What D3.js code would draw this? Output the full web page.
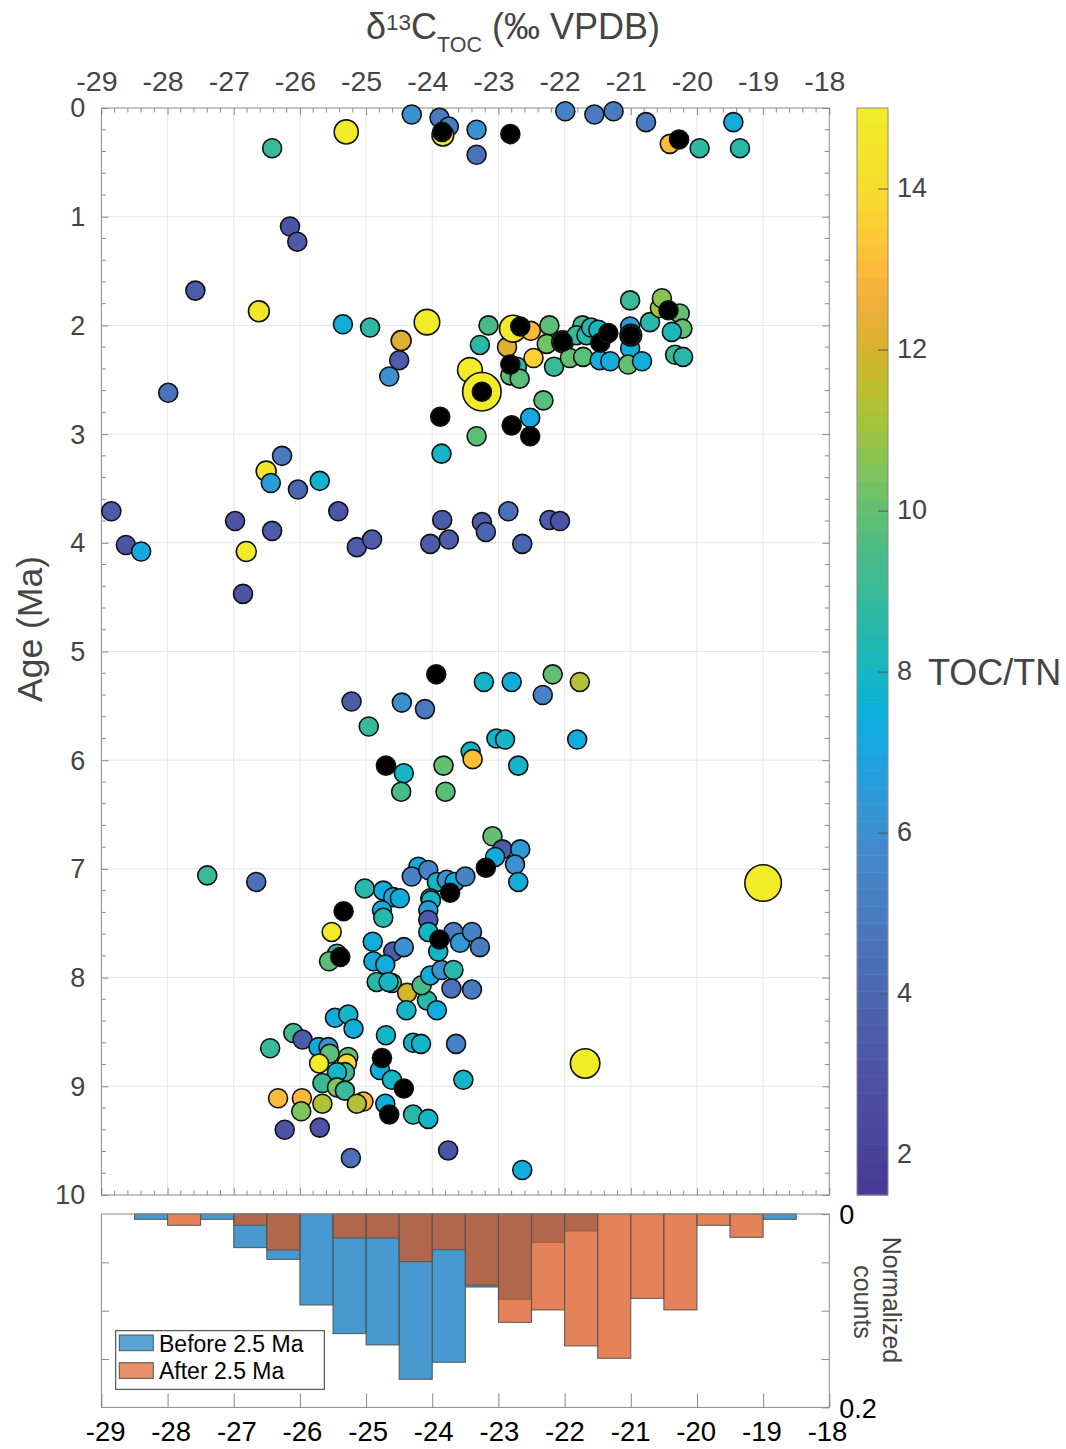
<!DOCTYPE html>
<html>
<head>
<meta charset="utf-8">
<script src="https://cdn.jsdelivr.net/npm/d3@7"></script>
<style>
  body { margin: 0; background: #fff; }
  svg text { font-family: "Liberation Sans", Arial, Helvetica, sans-serif; }
</style>
</head>
<body>
<svg id="fig" width="1066" height="1449"></svg>
<script>
// ---------- scatter samples: δ13C (‰), age (Ma), TOC/TN, relative marker size ----------
const d13c = [
  -24.31,-23.89,-23.75,-23.84,-23.33,-23.33,-21.99,-21.55,-21.26,-20.77,-20.41,-19.96,-19.45,-19.35,-25.30,-26.42,
  -26.15,-26.04,-27.58,-26.62,-27.99,-25.35,-24.94,-24.47,-24.50,-24.65,-24.08,
  -23.15,-23.28,-22.87,-22.72,-22.82,-22.68,-22.78,-22.51,-22.47,-22.23,-22.16,-22.27,-22.03,-21.92,-21.72,-21.73,
  -21.82,-21.67,-21.60,-21.49,-21.47,-21.31,-21.01,-21.01,-21.00,-21.04,-20.83,-21.01,-20.71,-20.56,-20.53,-20.26,
  -20.22,-20.38,-20.33,-20.21,-23.43,-23.25,-22.32,-22.52,-23.33,-23.86,
  -28.85,-28.63,-28.40,-26.98,-26.42,-26.51,-26.44,-26.27,-26.03,-25.70,-25.42,-25.14,-24.91,-26.81,-26.86,-23.85,
  -23.75,-24.03,-23.25,-23.19,-22.85,-22.64,-22.23,-22.07,
  -23.22,-22.80,-22.18,-21.77,-22.33,-25.22,-24.46,-24.11,-24.96,-23.03,-22.90,-21.81,-24.43,-24.47,-23.83,-23.80,
  -23.42,-23.39,-22.70,
  -23.09,-22.94,-22.67,-23.05,-22.75,-22.70,-25.02,-24.74,-24.21,-24.31,-24.06,-23.93,-23.78,-23.66,-23.50,-24.59,
  -24.49,-24.03,-27.40,-26.66,-19.00,
  -24.76,-24.74,-25.52,-25.44,-25.56,-24.90,-24.59,-24.43,-24.89,-24.71,-24.84,-24.61,-24.66,-24.38,-24.08,-24.39,
  -23.93,-24.16,-24.03,-23.86,-23.68,-23.71,-23.40,-24.02,-24.06,-24.06,-24.06,-23.91,-23.68,-23.58,-23.40,-23.28,
  -25.47,-25.27,-25.19,-26.45,-26.10,-25.96,-25.72,-25.57,-25.55,-25.27,-25.29,-25.71,-25.32,-25.44,-25.66,-25.44,
  -25.32,-26.33,-25.97,-25.66,-25.98,-25.04,-25.14,-26.23,-25.70,-25.23,-24.70,-24.29,-24.17,-23.64,-24.79,-24.61,
  -24.71,-24.29,-24.06,-23.53,-23.76,-22.64,-21.69
];
const ageMa = [
  0.06,0.09,0.17,0.25,0.20,0.43,0.03,0.06,0.03,0.13,0.33,0.37,0.13,0.37,0.22,0.37,
  1.09,1.23,1.68,1.87,2.62,1.99,2.02,2.14,2.32,2.47,1.97,
  2.00,2.18,2.20,2.38,2.46,2.49,2.03,2.05,2.30,2.00,2.38,2.17,2.15,2.30,2.29,2.00,
  2.09,2.09,2.02,2.04,2.32,2.33,2.01,2.21,2.09,2.36,2.33,1.77,1.97,1.84,1.75,1.89,
  2.03,2.06,2.27,2.29,2.41,2.61,2.69,2.85,3.02,3.18,
  3.71,4.02,4.08,3.80,3.89,3.34,3.45,3.20,3.51,3.43,3.71,4.04,3.97,4.08,4.47,3.79,
  3.97,4.01,3.81,3.90,3.71,4.01,3.79,3.80,
  5.28,5.28,5.21,5.28,5.40,5.46,5.47,5.53,5.69,5.80,5.81,5.81,6.12,6.29,6.05,6.29,
  5.92,5.99,6.05,
  6.70,6.82,6.82,6.89,6.96,7.12,7.18,7.20,6.98,7.07,7.01,7.12,7.10,7.12,7.07,7.26,
  7.27,7.27,7.06,7.12,7.13,
  7.38,7.45,7.58,7.78,7.85,7.67,7.76,7.72,7.85,7.88,8.04,8.05,8.04,8.14,8.21,8.30,
  8.30,8.07,7.98,7.93,7.93,8.10,8.11,7.29,7.38,7.47,7.58,7.76,7.58,7.68,7.58,7.72,
  8.37,8.34,8.47,8.65,8.51,8.57,8.64,8.64,8.70,8.73,8.79,8.79,8.87,8.87,8.97,9.01,
  9.04,9.11,9.11,9.16,9.23,9.14,9.16,9.40,9.38,9.66,8.53,8.60,8.61,8.61,8.85,8.94,
  9.16,9.26,9.30,8.94,9.59,9.77,8.79
];
const tocTn = [
  6.0,5.0,5.0,15,6.0,4.5,5.3,5.0,5.0,5.0,13,8.7,7.3,8.5,15,9.0,
  3.0,3.5,3.5,14.5,4.5,7.2,8.8,12.2,3.5,6.0,15,
  9.5,8.6,12.2,8.6,9.8,9.8,15,13,13.6,9.8,9.0,10.2,15,10,9.8,9.2,
  8.9,8.5,8.3,8.2,7.3,7.3,6.5,7.3,15,10,7.3,8.9,8.5,11,10.6,10,
  10,8.2,9.0,8.5,15,15,9.8,7.0,9.8,8.0,
  3.5,3.0,7.0,3.0,3.5,14.5,6.5,5.0,4.0,7.8,3.0,3.5,3.5,14.8,3.0,3.5,
  3.5,3.5,3.5,4.0,4.5,4.0,3.5,3.0,
  8.0,7.2,10,11.4,5.3,3.5,6.0,5.0,9.0,8.0,8.0,7.2,8.0,9.5,10,9.8,
  8.0,13.3,8.0,
  10,3.5,6.5,7.2,6.0,7.2,8.6,7.2,7.2,5.5,5.3,8.0,6.0,7.2,5.3,7.2,
  7.2,8.2,9.0,4.5,15,
  7.2,8.6,14.8,8.6,9.8,7.2,3.5,6.0,7.2,7.2,8.6,9.8,8.0,12.0,8.6,8.0,
  7.2,9.5,7.2,6.0,8.6,4.5,5.0,8.0,6.5,3.5,8.0,8.0,5.0,6.5,5.3,5.0,
  7.3,8.0,7.3,9.0,9.2,3.5,7.2,6.0,9.8,10,13.8,14.8,9.0,8.0,9.0,10.5,
  9.0,13,13,11.4,10.5,13,11.4,3.0,3.0,4.5,8.0,8.0,8.0,5.5,7.2,8.0,
  7.2,8.6,8.0,8.0,3.0,7.2,15
];
// relative bubble size (1 = standard marker)
const sizeValue = [
  1,1,1,1.3,1,1,1,1,1,1,1,1,1,1,1.6,1,
  1,1,1,1.2,1,1,1,1.1,1,1,1.8,
  1,1,1,1,1,1,2.0,1,1,1,1,1,1.3,1,1,1,
  1,1,1,1,1,1,1,1,1.3,1,1,1,1,1,1,1,
  1,1,1,1,1.7,4.1,1,1,1,1,
  1,1,1,1,1,1.1,1,1,1,1,1,1,1,1.1,1,1,
  1,1,1,1,1,1,1,1,
  1,1,1,1,1,1,1,1,1,1,1,1,1,1,1,1,
  1,1,1,
  1,1,1,1,1,1,1,1,1,1,1,1,1,1,1,1,
  1,1,1,1,3.7,
  1,1,1,1,1,1,1,1,1,1,1,1,1,1,1,1,
  1,1,1,1,1,1,1,1,1,1,1,1,1,1,1,1,
  1,1,1,1,1,1,1,1,1,1,1,1,1,1,1,1,
  1,1,1,1,1,1,1,1,1,1,1,1,1,1,1,1,
  1,1,1,1,1,1,2.4
];
// samples without a TOC/TN value (drawn black)
const noRatioD13c = [-23.85,-22.82,-20.27,-23.25,-22.67,-22.82,-22.03,-21.46,-21.34,-21.00,-20.43,-22.80,-22.52,-23.88,
  -23.94,-24.70,-23.19,-23.73,-25.34,-25.39,-23.89,-24.76,-24.43,-24.65];
const noRatioAge = [0.22,0.24,0.29,2.61,2.01,2.36,2.15,2.16,2.07,2.09,1.86,2.92,3.02,2.84,
  5.21,6.05,6.99,7.22,7.39,7.81,7.65,8.74,9.02,9.26];

// ---------- histogram of δ13C (normalized counts, 0.5 ‰ bins) ----------
const binEdges = [-28.5,-28,-27.5,-27,-26.5,-26,-25.5,-25,-24.5,-24,-23.5,-23,-22.5,-22,-21.5,-21,-20.5,-20,-19.5,-19,-18.5];
const beforeFrac = [0.0055,0,0.0055,0.0348,0.0469,0.0941,0.1237,0.1354,0.1709,0.1533,0.0755,0.0882,0.0293,0.0176,0,0,0,0,0,0.0055];
const afterFrac  = [0,0.0117,0,0.0117,0.0372,0,0.0248,0.0248,0.0493,0.0369,0.0735,0.112,0.0992,0.1364,0.1492,0.0872,0.0992,0.0117,0.0241,0];
const legendLabels = ["Before 2.5 Ma", "After 2.5 Ma"];

// ---------- tick values ----------
const xTicks = d3.range(-29, -17);
const ageTicks = d3.range(0, 11);
const ratioTicks = [2, 4, 6, 8, 10, 12, 14];
const ratioDomain = [1.5, 15];

// colormap stops (TOC/TN)
const cmapValues = [1.5,2,2.5,3,3.5,4,4.5,5,5.5,6,6.5,7,7.5,8,8.5,9,9.5,10,10.5,11,11.5,12,12.5,13,13.5,14,14.5,15];
const cmapColors = ["#463996","#49419b","#4b4aa1","#4c53a6","#4c5cab","#4b66b2","#4a70b9","#487bc0","#4485c8","#3c8fcf",
  "#2c9bd8","#18a6df","#0db0d8","#14b6c3","#25b8ac","#38b998","#4bbb86","#62bf72","#80c35b","#9fc43e","#bdbf2f",
  "#d6b42b","#eeae3a","#fcb93a","#fdcc33","#f6dc2c","#f2e52a","#f1ec27"];

// ---------- layout ----------
const svg = d3.select("#fig");
const font = '"Liberation Sans", Arial, Helvetica, sans-serif';
const axisGray = "#8a8a8a";
const textGray = "#444";
const plain = d => String(d);   // hyphen-minus tick labels

const x = d3.scaleLinear([-29, -18], [101.4, 829.3]);
const y = d3.scaleLinear([0, 10], [108, 1195]);
const hy = d3.scaleLinear([0, 0.2], [1214, 1407.4]);
const cbY = d3.scaleLinear(ratioDomain, [1195, 108]);
const cbX0 = 857, cbX1 = 888;
const rScale = d3.scaleSqrt([0, 1], [0, 9.5]);

// 64-level colormap
const stopScale = d3.scaleLinear(cmapValues, cmapColors).interpolate(d3.interpolateRgb);
const nLevels = 64;
const palette = d3.range(nLevels).map(i => stopScale(ratioDomain[0] + (i + 0.5) / nLevels * (ratioDomain[1] - ratioDomain[0])));
const colorOf = v => {
  const t = (v - ratioDomain[0]) / (ratioDomain[1] - ratioDomain[0]);
  const i = Math.max(0, Math.min(nLevels - 1, Math.floor(t * nLevels)));
  return palette[i];
};

// ---------- main panel ----------
const main = svg.append("g");

// grid
main.append("g").selectAll("line").data(d3.range(-28, -18)).join("line")
  .attr("x1", d => x(d)).attr("x2", d => x(d)).attr("y1", y(0)).attr("y2", y(10))
  .attr("stroke", "#e6e6e6").attr("stroke-width", 1);
main.append("g").selectAll("line").data(d3.range(1, 10)).join("line")
  .attr("x1", x(-29)).attr("x2", x(-18)).attr("y1", d => y(d)).attr("y2", d => y(d))
  .attr("stroke", "#e6e6e6").attr("stroke-width", 1);

// minor ticks (inward) on all four sides
const minorX = d3.range(0, 56).map(i => -29 + i * 0.2).filter(v => Math.abs(v - Math.round(v)) > 1e-6);
const minorY = d3.range(0, 51).map(i => i * 0.2).filter(v => Math.abs(v - Math.round(v)) > 1e-6);
const mt = main.append("g").attr("stroke", axisGray).attr("stroke-width", 1);
mt.selectAll(".mxt").data(minorX).join("line").attr("class", "mxt")
  .attr("x1", d => x(d)).attr("x2", d => x(d)).attr("y1", y(0)).attr("y2", y(0) + 4.5);
mt.selectAll(".mxb").data(minorX).join("line").attr("class", "mxb")
  .attr("x1", d => x(d)).attr("x2", d => x(d)).attr("y1", y(10)).attr("y2", y(10) - 4.5);
mt.selectAll(".myl").data(minorY).join("line").attr("class", "myl")
  .attr("x1", x(-29)).attr("x2", x(-29) + 4.5).attr("y1", d => y(d)).attr("y2", d => y(d));
mt.selectAll(".myr").data(minorY).join("line").attr("class", "myr")
  .attr("x1", x(-18)).attr("x2", x(-18) - 4.5).attr("y1", d => y(d)).attr("y2", d => y(d));

function styleAxis(g, color, size) {
  g.select(".domain").remove();
  g.selectAll(".tick line").attr("stroke", axisGray);
  g.selectAll(".tick text").attr("fill", color).attr("font-size", size).attr("font-family", font);
}

// top axis with labels
main.append("g").attr("transform", `translate(0,${y(0)})`)
  .call(d3.axisTop(x).tickValues(xTicks).tickSize(-7).tickPadding(17.5).tickFormat(plain))
  .call(g => styleAxis(g, textGray, 28.5))
  .call(g => g.selectAll(".tick text").attr("dx", -5));
// bottom axis (ticks only)
main.append("g").attr("transform", `translate(0,${y(10)})`)
  .call(d3.axisBottom(x).tickValues(xTicks).tickSize(-7).tickFormat(""))
  .call(g => styleAxis(g, textGray, 28));
// left axis with labels
main.append("g").attr("transform", `translate(${x(-29)},0)`)
  .call(d3.axisLeft(y).tickValues(ageTicks).tickSize(-7).tickPadding(16).tickFormat(plain))
  .call(g => styleAxis(g, textGray, 27))
  .call(g => g.selectAll(".tick text").attr("dy", "0.33em"));
// right axis (ticks only)
main.append("g").attr("transform", `translate(${x(-18)},0)`)
  .call(d3.axisRight(y).tickValues(ageTicks).tickSize(-7).tickFormat(""))
  .call(g => styleAxis(g, textGray, 27));

// frame
main.append("rect").attr("x", x(-29)).attr("y", y(0))
  .attr("width", x(-18) - x(-29)).attr("height", y(10) - y(0))
  .attr("fill", "none").attr("stroke", axisGray).attr("stroke-width", 1);

// scatter points coloured by TOC/TN
const pts = d13c.map((d, i) => ({ d, a: ageMa[i], r: tocTn[i], s: sizeValue[i] }));
main.append("g").selectAll("circle").data(pts).join("circle")
  .attr("cx", p => x(p.d)).attr("cy", p => y(p.a)).attr("r", p => rScale(p.s))
  .attr("fill", p => colorOf(p.r)).attr("stroke", "#111").attr("stroke-width", 1.6);
// samples without ratio
main.append("g").selectAll("circle").data(noRatioD13c.map((d, i) => ({ d, a: noRatioAge[i] }))).join("circle")
  .attr("cx", p => x(p.d)).attr("cy", p => y(p.a)).attr("r", rScale(1))
  .attr("fill", "#000").attr("stroke", "#111").attr("stroke-width", 1.6);

// top axis title
const title = main.append("text").attr("x", 366).attr("y", 39)
  .attr("font-size", 36).attr("fill", textGray);
title.append("tspan").text("δ");
title.append("tspan").attr("font-size", 22.5).attr("dy", -9).text("13");
title.append("tspan").attr("dy", 9).text("C");
title.append("tspan").attr("font-size", 21.5).attr("dy", 13).text("TOC");
title.append("tspan").attr("dy", -13).text(" (‰ VPDB)");

// y axis title
main.append("text").attr("transform", "translate(42,629) rotate(-90)")
  .attr("text-anchor", "middle").attr("font-size", 35.5).attr("fill", textGray).text("Age (Ma)");

// ---------- colour bar ----------
const cb = svg.append("g");
const levelEdges = d3.range(nLevels + 1).map(i => ratioDomain[0] + i / nLevels * (ratioDomain[1] - ratioDomain[0]));
cb.selectAll("rect.lvl").data(d3.range(nLevels)).join("rect").attr("class", "lvl")
  .attr("x", cbX0).attr("width", cbX1 - cbX0)
  .attr("y", i => cbY(levelEdges[i + 1])).attr("height", i => cbY(levelEdges[i]) - cbY(levelEdges[i + 1]) + 0.5)
  .attr("fill", i => palette[i]);
cb.append("rect").attr("x", cbX0).attr("y", cbY(15)).attr("width", cbX1 - cbX0).attr("height", cbY(1.5) - cbY(15))
  .attr("fill", "none").attr("stroke", axisGray).attr("stroke-width", 1);
cb.append("g").attr("transform", `translate(${cbX1},0)`)
  .call(d3.axisRight(cbY).tickValues(ratioTicks).tickSize(-10).tickPadding(9).tickFormat(plain))
  .call(g => styleAxis(g, textGray, 27))
  .call(g => g.selectAll(".tick line").attr("stroke", "#555"))
  .call(g => g.selectAll(".tick text").attr("dy", "0.3em"));
cb.append("text").attr("x", 928).attr("y", 685).attr("font-size", 36).attr("fill", textGray).text("TOC/TN");

// ---------- histogram panel ----------
const hist = svg.append("g");
const bins = binEdges.slice(0, -1).map((lo, i) => ({ lo, hi: binEdges[i + 1], before: beforeFrac[i], after: afterFrac[i] }));
const histColors = ["#0072bd", "#d95319"];
hist.append("g").selectAll("rect").data(bins.filter(b => b.before > 0)).join("rect")
  .attr("x", b => x(b.lo)).attr("width", b => x(b.hi) - x(b.lo))
  .attr("y", hy(0)).attr("height", b => hy(b.before) - hy(0))
  .attr("fill", histColors[0]).attr("fill-opacity", 0.72)
  .attr("stroke", "#555").attr("stroke-width", 1);
hist.append("g").selectAll("rect").data(bins.filter(b => b.after > 0)).join("rect")
  .attr("x", b => x(b.lo)).attr("width", b => x(b.hi) - x(b.lo))
  .attr("y", hy(0)).attr("height", b => hy(b.after) - hy(0))
  .attr("fill", histColors[1]).attr("fill-opacity", 0.72)
  .attr("stroke", "#555").attr("stroke-width", 1);

hist.append("g").attr("transform", `translate(0,${hy(0.2)})`)
  .call(d3.axisBottom(x).tickValues(xTicks).tickSize(-14).tickFormat(""))
  .call(g => styleAxis(g, "#000", 27));
hist.append("g").attr("transform", `translate(${x(-29)},0)`)
  .call(d3.axisLeft(hy).tickValues([0.05, 0.1, 0.15]).tickSize(-7.7).tickFormat(""))
  .call(g => styleAxis(g, "#000", 27));
hist.append("g").attr("transform", `translate(${x(-18)},0)`)
  .call(d3.axisRight(hy).tickValues([0, 0.05, 0.1, 0.15, 0.2]).tickSize(-7.7).tickPadding(10)
    .tickFormat(v => (v === 0 ? "0" : v === 0.2 ? "0.2" : "")))
  .call(g => styleAxis(g, "#000", 27))
  .call(g => g.selectAll(".tick text").attr("dy", "0.36em"));
hist.append("rect").attr("x", x(-29)).attr("y", hy(0)).attr("width", x(-18) - x(-29)).attr("height", hy(0.2) - hy(0))
  .attr("fill", "none").attr("stroke", axisGray).attr("stroke-width", 1);

// bottom tick labels
const xLab = d3.scaleLinear([-29, -18], [105.6, 827.5]);
hist.append("g").selectAll("text").data(xTicks).join("text")
  .attr("x", d => xLab(d)).attr("y", 1441).attr("text-anchor", "middle")
  .attr("font-size", 27.5).attr("fill", "#000").text(plain);

// right axis title
hist.append("text").attr("transform", "translate(883,1300) rotate(90)").attr("text-anchor", "middle")
  .attr("font-size", 25).attr("fill", textGray).text("Normalized");
hist.append("text").attr("transform", "translate(854,1302) rotate(90)").attr("text-anchor", "middle")
  .attr("font-size", 25).attr("fill", textGray).text("counts");

// legend
const lg = hist.append("g");
lg.append("rect").attr("x", 115.7).attr("y", 1330.7).attr("width", 208.6).attr("height", 58.6)
  .attr("fill", "#fff").attr("stroke", "#333").attr("stroke-width", 1);
legendLabels.forEach((lab, i) => {
  const yy = 1335 + i * 27.7;
  lg.append("rect").attr("x", 119.3).attr("y", yy).attr("width", 34).attr("height", 15.7)
    .attr("fill", histColors[i]).attr("fill-opacity", 0.65).attr("stroke", "#555").attr("stroke-width", 1);
  lg.append("text").attr("x", 159).attr("y", yy + 16.7).attr("font-size", 23).attr("fill", "#000").text(lab);
});
</script>
</body>
</html>
